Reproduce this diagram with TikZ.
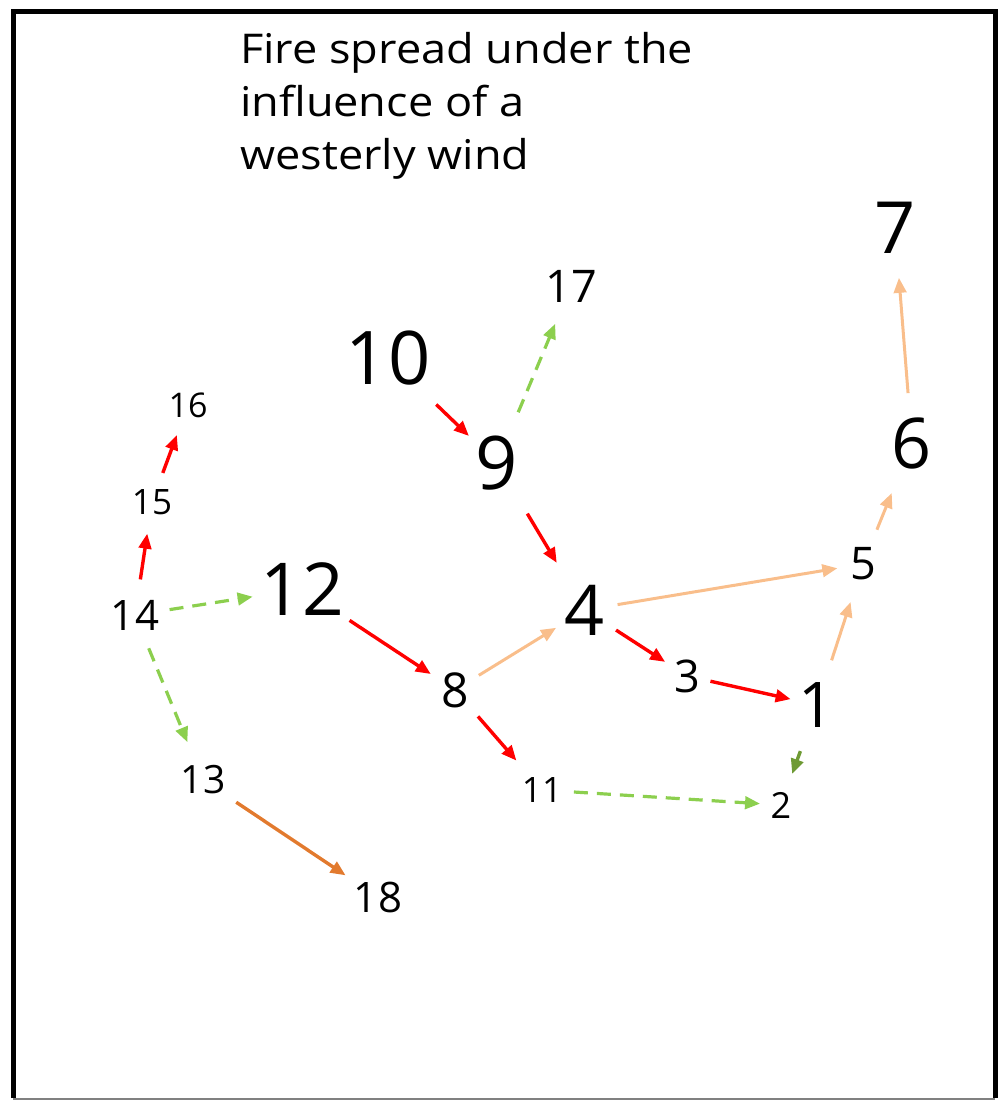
\documentclass[tikz,border=0pt]{standalone}
\usepackage{fontspec}
\setmainfont{Open Sans}
\newfontfamily\titlefont[FakeStretch=1.1]{Open Sans}
\usepackage{tikz}
\usetikzlibrary{arrows.meta}
\definecolor{firered}{HTML}{FF0000}
\definecolor{peach}{HTML}{F9BE8B}
\definecolor{grass}{HTML}{8CCF4E}
\definecolor{olive}{HTML}{6E9A34}
\definecolor{ember}{HTML}{E27A2E}
\tikzset{
  num/.style={font=\fontsize{#1}{#1}\selectfont, inner sep=0pt},
  sp/.style={line width=3.4pt, -{Triangle[length=15pt,width=12.5pt]}},
  hot/.style={sp, draw=firered},
  warm/.style={sp, draw=peach, line width=3pt},
  wet/.style={sp, draw=grass, line width=3.2pt, dash pattern=on 14pt off 9pt},
}

\begin{document}
\begin{tikzpicture}[x=1pt, y=-1pt]
  \useasboundingbox (0,0) rectangle (1002,1100);
  % frame
  \draw[line width=5pt] (13,1098) -- (13,11) -- (995,11) -- (995,1098);
  \draw[black!50, line width=1.5pt] (13,1099) -- (995,1099);
  \node[anchor=north west, inner sep=0pt, align=left, font=\titlefont\fontsize{41}{53}\selectfont] (title) at (240,32)
    {Fire spread under the\\influence of a\\westerly wind};
  % fire points
  \node[num=72] (n7) at (895,228) {7};
  \node[num=45] (n17) at (571,286) {17};
  \node[num=74] (n10) at (388,358) {10};
  \node[num=34] (n16) at (188,405) {16};
  \node[num=74] (n9) at (497,463) {9};
  \node[num=70] (n6) at (912,443) {6};
  \node[num=35] (n15) at (152,502) {15};
  \node[num=45] (n5) at (863,564) {5};
  \node[num=73] (n12) at (302,589) {12};
  \node[num=70] (n4) at (585,610) {4};
  \node[num=42] (n14) at (135,615) {14};
  \node[num=45] (n3) at (687,676) {3};
  \node[num=48] (n8) at (455,690) {8};
  \node[num=63] (n1) at (817,705) {1};
  \node[num=39] (n13) at (203,780) {13};
  \node[num=35] (n11) at (542,790) {11};
  \node[num=36] (n2) at (781,805) {2};
  \node[num=42] (n18) at (378,897) {18};
  % spread
  \draw[hot, shorten <=67pt, shorten >=39pt] (n10.center) -- (n9.center);
  \draw[wet, shorten <=55pt, shorten >=41pt] (n9.center) -- (n17.center);
  \draw[hot, shorten <=59pt, shorten >=55pt] (n9.center) -- (n4.center);
  \draw[warm, shorten <=50pt, shorten >=50pt] (n6.center) -- (n7.center);
  \draw[warm, shorten <=37pt, shorten >=54pt] (n5.center) -- (n6.center);
  \draw[warm, shorten <=33pt, shorten >=26pt] (n4.center) -- (n5.center);
  \draw[warm, shorten <=47pt, shorten >=40pt] (n1.center) -- (n5.center);
  \draw[hot, shorten <=31pt, shorten >=32pt] (n15.center) -- (n16.center);
  \draw[hot, shorten <=36pt, shorten >=32pt] (n14.center) -- (n15.center);
  \draw[wet, shorten <=35pt, shorten >=50pt] (n14.center) -- (n12.center);
  \draw[wet, shorten <=36pt, shorten >=41pt] (n14.center) -- (n13.center);
  \draw[hot, shorten <=57pt, shorten >=29pt] (n12.center) -- (n8.center);
  \draw[warm, shorten <=28pt, shorten >=34pt] (n8.center) -- (n4.center);
  \draw[hot, shorten <=37pt, shorten >=26pt] (n4.center) -- (n3.center);
  \draw[hot, shorten <=24pt, shorten >=27pt] (n3.center) -- (n1.center);
  \draw[hot, shorten <=35pt, shorten >=39pt] (n8.center) -- (n11.center);
  \draw[wet, shorten <=32pt, shorten >=21pt] (n11.center) -- (n2.center);
  \draw[sp, draw=olive, shorten <=49pt, shorten >=33pt] (n1.center) -- (n2.center);
  \draw[sp, draw=ember, shorten <=40pt, shorten >=39pt] (n13.center) -- (n18.center);
\end{tikzpicture}
\end{document}
